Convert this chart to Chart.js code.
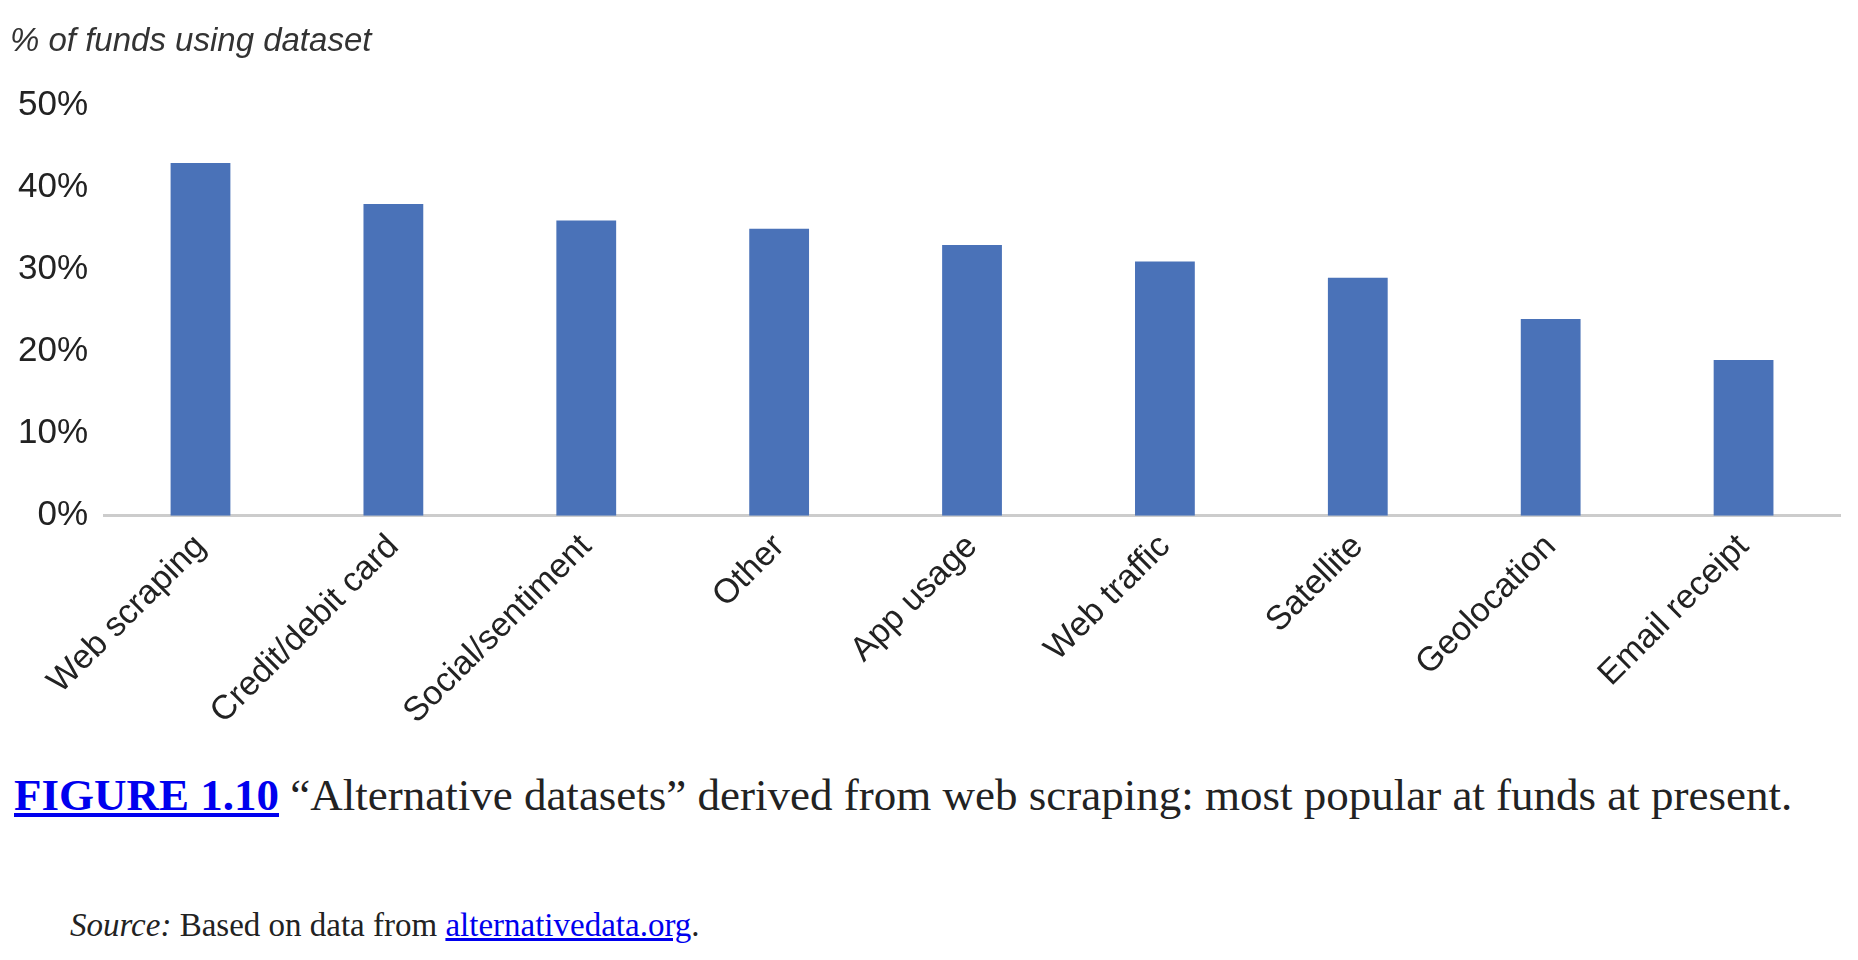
<!DOCTYPE html>
<html><head><meta charset="utf-8">
<script src="https://cdn.jsdelivr.net/npm/chart.js@4"></script>
<style>
body{margin:0;background:#fff;width:1858px;height:960px;overflow:hidden}
#wrap{position:absolute;left:0;top:0;width:1858px;height:735px}
.cap{position:absolute;left:14px;width:1826px;font-family:'Liberation Serif',serif;color:#222}
#fig{top:766px;font-size:45px;line-height:58px;text-align:justify;text-align-last:left}
#src{top:907px;left:70px;font-size:33px}
a{color:#0000ee}
</style></head><body>
<div id="wrap"><canvas id="c"></canvas></div>
<div class="cap" id="fig"><a href="#"><b>FIGURE 1.10</b></a> “Alternative datasets” derived from web scraping: most popular at funds at present.</div>
<div class="cap" id="src"><i>Source:</i> Based on data from <a href="#">alternativedata.org</a>.</div>
<script>
const categories = ['Web scraping','Credit/debit card','Social/sentiment','Other','App usage','Web traffic','Satellite','Geolocation','Email receipt'];
const values = [43,38,36,35,33,31,29,24,19];

new Chart(document.getElementById('c'), {
  type: 'bar',
  data: { labels: categories, datasets: [{ data: values, backgroundColor: '#4a72b8', categoryPercentage: 1, barPercentage: 0.31 }] },
  options: {
    responsive: true, maintainAspectRatio: false, animation: false,
    layout: { padding: { left: 10, right: 18, top: 14 } },
    plugins: {
      legend: { display: false }, tooltip: { enabled: false },
      title: { display: true, text: '% of funds using dataset', align: 'start', color: '#333',
        font: { family: 'Liberation Sans', size: 33, style: 'italic', weight: 'normal' }, padding: { top: 8, bottom: 44 } }
    },
    scales: {
      x: { grid: { display: false }, border: { color: '#ccc', width: 3 },
        ticks: { color: '#222', maxRotation: 45, minRotation: 45, font: { family: 'Liberation Sans', size: 34 } } },
      y: { min: 0, max: 50, grid: { display: false }, border: { display: false },
        ticks: { stepSize: 5, color: '#222', padding: 8, callback: v => v + '%', font: { family: 'Liberation Sans', size: 35 } } }
    }
  }
});
</script>
</body></html>
